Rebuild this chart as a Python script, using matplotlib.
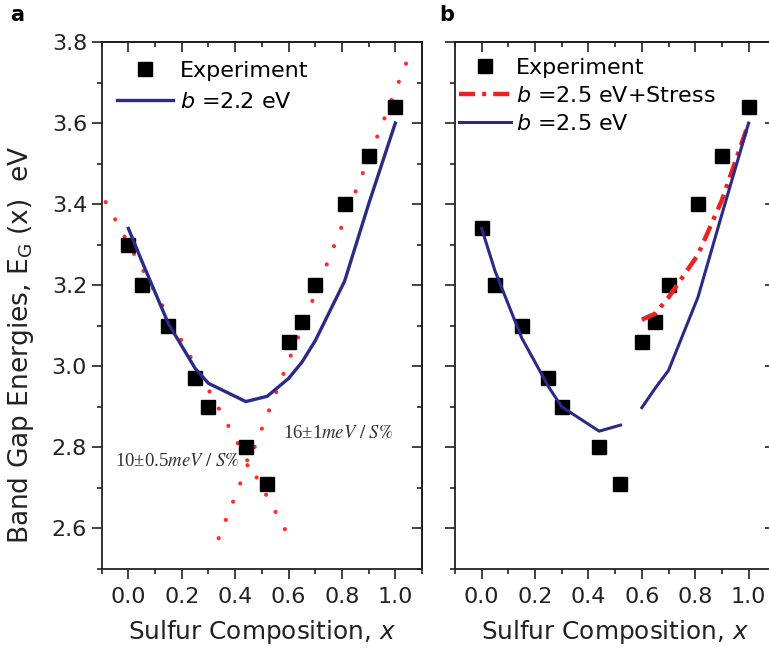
import matplotlib
matplotlib.use("Agg")
import matplotlib.pyplot as plt
from matplotlib.ticker import MultipleLocator

# ---------------- data ----------------
exp_x = [0.0, 0.05, 0.15, 0.25, 0.30, 0.44, 0.52, 0.60, 0.65, 0.70, 0.81, 0.90, 1.00]
exp_a = [3.30, 3.20, 3.10, 2.97, 2.90, 2.80, 2.71, 3.06, 3.11, 3.20, 3.40, 3.52, 3.64]
exp_b = [3.34, 3.20, 3.10, 2.97, 2.90, 2.80, 2.71, 3.06, 3.11, 3.20, 3.40, 3.52, 3.64]

fit_a = [3.34, 3.26, 3.105, 2.995, 2.958, 2.913, 2.926, 2.97, 3.01, 3.063, 3.21, 3.40, 3.60]

lin1_x = [-0.085, 0.59]
lin1_y = [3.405, 2.594]
lin2_x = [0.338, 1.041]
lin2_y = [2.576, 3.748]

fit_b_left_x = [0.0, 0.05, 0.15, 0.25, 0.30, 0.44, 0.52]
fit_b_left = [3.34, 3.235, 3.07, 2.95, 2.90, 2.84, 2.855]
fit_b_right_x = [0.60, 0.65, 0.70, 0.81, 0.90, 1.00]
fit_b_right = [2.898, 2.946, 2.99, 3.17, 3.375, 3.60]
stress_b = [3.115, 3.13, 3.17, 3.275, 3.41, 3.60]

xticks = [0.0, 0.2, 0.4, 0.6, 0.8, 1.0]
yticks = [2.6, 2.8, 3.0, 3.2, 3.4, 3.6, 3.8]

# ---------------- style ----------------
plt.rcParams['font.family'] = ['DejaVu Sans']
plt.rcParams['mathtext.fontset'] = 'dejavusans'
BLUE = '#2b2a88'
RED = '#ff2a2a'
INK = '#222222'

W, H = 769, 650
fig = plt.figure(figsize=(W / 100, H / 100), dpi=100)

def px_ax(l, r, t, b):
    return [l / W, 1 - b / H, (r - l) / W, (b - t) / H]

ax_a = fig.add_axes(px_ax(101.7, 422, 42, 569))
ax_b = fig.add_axes(px_ax(455, 775.3, 42, 569))

for ax in (ax_a, ax_b):
    ax.set_xlim(-0.1, 1.1)
    ax.set_ylim(2.5, 3.8)
    ax.set_xticks(xticks)
    ax.set_yticks(yticks)
    ax.xaxis.set_minor_locator(MultipleLocator(0.1))
    ax.yaxis.set_minor_locator(MultipleLocator(0.1))
    for s in ax.spines.values():
        s.set_linewidth(1.3)
        s.set_color(INK)
    ax.tick_params(axis='both', which='major', length=7, width=1.2, labelsize=16,
                   color=INK, labelcolor=INK)
    ax.tick_params(axis='both', which='minor', length=3.8, width=1.2, color=INK)
    ax.tick_params(axis='x', which='both', direction='out', pad=6)
    ax.tick_params(axis='y', which='both', direction='out', pad=3.5)
    # mirrored inward ticks on top and right
    tx = ax.secondary_xaxis('top')
    tx.set_xticks(xticks)
    tx.xaxis.set_minor_locator(MultipleLocator(0.1))
    tx.tick_params(which='major', direction='in', length=7, width=1.2, labeltop=False, color=INK)
    tx.tick_params(which='minor', direction='in', length=3.8, width=1.2, color=INK)
    tx.spines['top'].set_linewidth(1.3)
    ty = ax.secondary_yaxis('right')
    ty.set_yticks(yticks)
    ty.yaxis.set_minor_locator(MultipleLocator(0.1))
    ty.tick_params(which='major', direction='in', length=7, width=1.2, labelright=False, color=INK)
    ty.tick_params(which='minor', direction='in', length=3.8, width=1.2, color=INK)
    ty.spines['right'].set_linewidth(1.3)
    ax.set_xticklabels([f"{v:.1f}" for v in xticks])
    ax.set_xlabel('Sulfur Composition, $x$', fontsize=17.8, color=INK, labelpad=8)

ax_a.set_yticklabels([f"{v:.1f}" for v in yticks])
ax_b.set_yticklabels([])

# ---------------- panel a ----------------
dot_kw = dict(color=RED, lw=3.0, dashes=(0.01, 4.7), dash_capstyle='round', zorder=2)
ax_a.plot(lin1_x, lin1_y, **dot_kw)
ax_a.plot(lin2_x, lin2_y, **dot_kw)
ax_a.plot(exp_x, exp_a, 's', color='black', ms=10.5, zorder=3, label='Experiment')
ax_a.plot(exp_x, fit_a, '-', color=BLUE, lw=2.4, zorder=4, label=r'$b$ =2.2 eV')

ax_a.text(-0.052, 2.766, r'10±0.5$\mathit{meV\ /\ S\%}$', fontsize=13.5,
          family='Liberation Serif', math_fontfamily='stix', color='#333333',
          ha='left', va='center')
ax_a.text(0.58, 2.834, r'16±1$\mathit{meV\ /\ S\%}$', fontsize=13.5,
          family='Liberation Serif', math_fontfamily='stix', color='#333333',
          ha='left', va='center')

ax_a.legend(loc='upper left', bbox_to_anchor=(0.035, 0.973), frameon=False, fontsize=16,
            handlelength=2.5, handletextpad=0.3, labelspacing=0.52, borderaxespad=0.0,
            borderpad=0.2)

# ---------------- panel b ----------------
ax_b.plot(exp_x, exp_b, 's', color='black', ms=10.5, zorder=3, label='Experiment')
ax_b.plot(fit_b_right_x, stress_b, color='#f02020', lw=3.2, dashes=(3.6, 1.6, 0.9, 1.6),
          zorder=4, label=r'$b$ =2.5 eV+Stress')
ax_b.plot(fit_b_left_x, fit_b_left, '-', color=BLUE, lw=2.2, zorder=4, label=r'$b$ =2.5 eV')
ax_b.plot(fit_b_right_x, fit_b_right, '-', color=BLUE, lw=2.2, zorder=4)

ax_b.legend(loc='upper left', bbox_to_anchor=(0.0, 0.979), frameon=False, fontsize=16,
            handlelength=2.3, handletextpad=0.25, labelspacing=0.37, borderaxespad=0.0,
            borderpad=0.2)

# ---------------- labels ----------------
fig.text(21 / W, 1 - 345 / H, r'Band Gap Energies, E$_\mathrm{G}$ (x)  eV', rotation=90,
         ha='center', va='center', fontsize=19, color=INK)
fig.text(10 / W, 1 - 15 / H, 'a', fontsize=15, fontweight='bold', ha='left', va='center')
fig.text(439 / W, 1 - 15 / H, 'b', fontsize=15, fontweight='bold', ha='left', va='center')

fig.savefig('out.png', dpi=100)
